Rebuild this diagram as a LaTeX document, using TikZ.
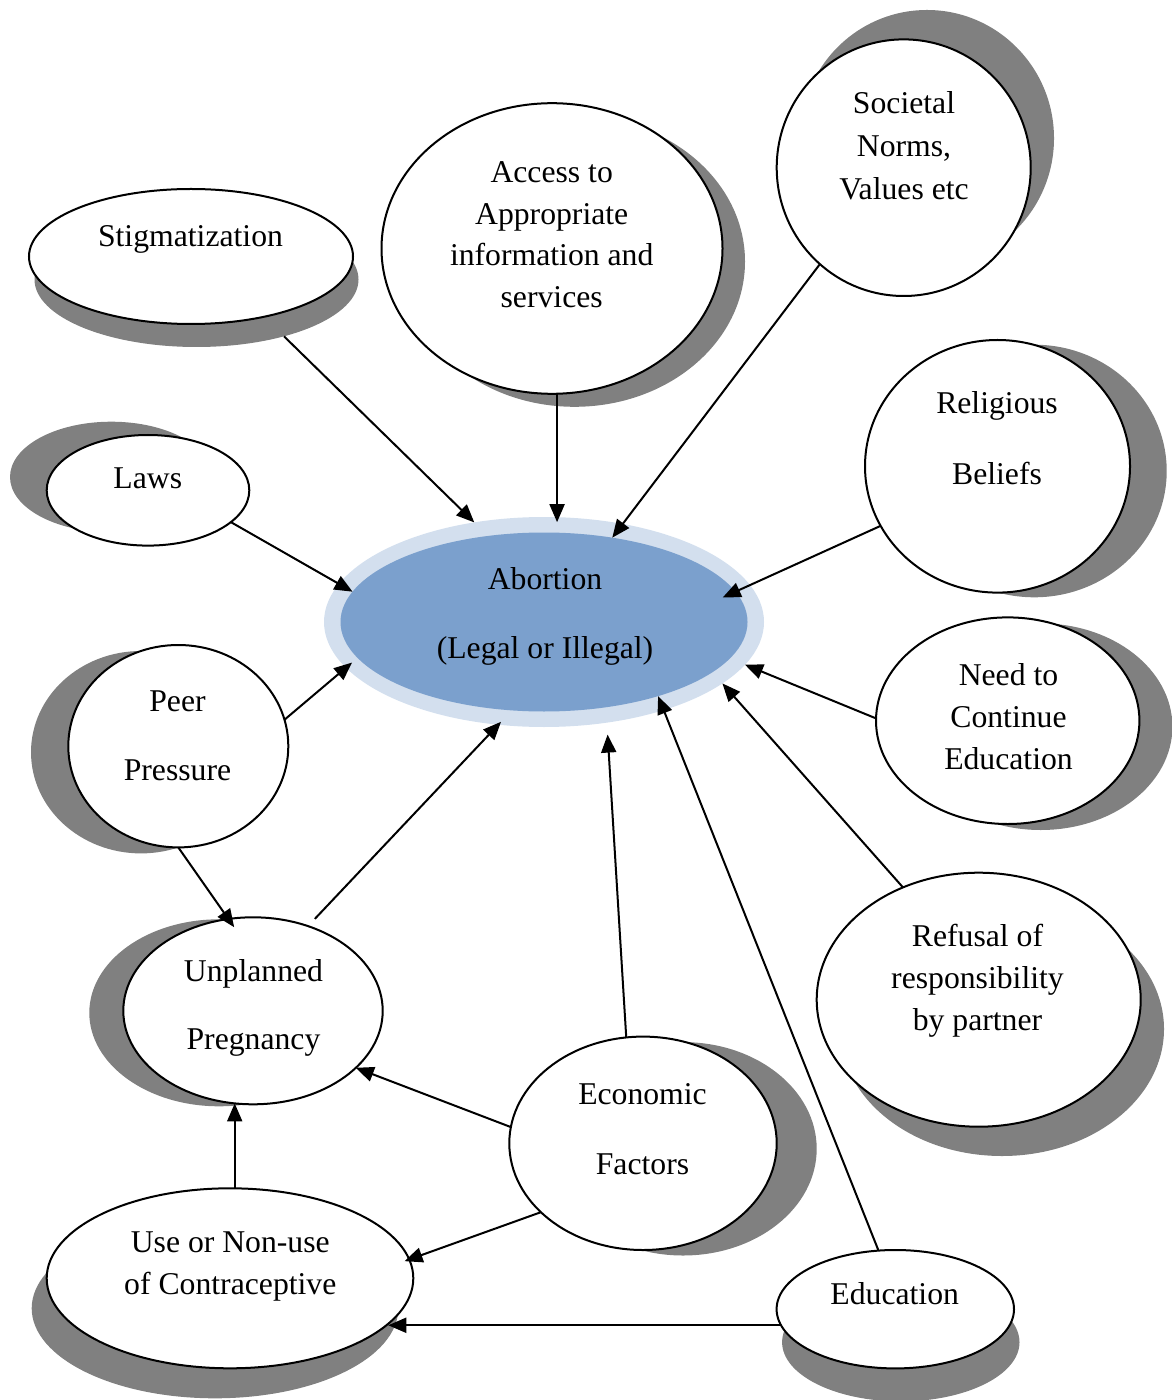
\documentclass[tikz,border=0pt]{standalone}
\usepackage{fontspec}
\setmainfont{Liberation Serif}
\usetikzlibrary{arrows.meta,shapes.geometric}
\definecolor{shadowgray}{RGB}{128,128,128}
\definecolor{abortblue}{RGB}{123,160,205}
\definecolor{abortlight}{RGB}{211,223,238}
\newcommand\tl[1]{\begin{tabular}[t]{@{}c@{}}#1\end{tabular}}
\begin{document}
\begin{tikzpicture}[x=0.5pt,y=-0.5pt,
  bub/.style={ellipse, draw=black, line width=1pt, fill=white, inner sep=0pt, outer sep=0pt},
  shad/.style={ellipse, fill=shadowgray, draw=none, inner sep=0pt, outer sep=0pt},
  lbl/.style={anchor=base, inner sep=0pt, font=\fontsize{15.85pt}{20.85pt}\selectfont},
  arr/.style={line width=1pt, -{Triangle[length=9pt,width=7.5pt]}}]
\useasboundingbox (0,0) rectangle (1171,1400);
% shadows
\node[shad, minimum width=162pt, minimum height=67.5pt] (stigS) at (196.5,279.5) {};
\node[shad, minimum width=170.5pt, minimum height=145.3pt] (accS) at (574.5,261.5) {};
\node[shad, minimum width=127pt, minimum height=128.3pt] (socS) at (927,138.3) {};
\node[shad, minimum width=101.3pt, minimum height=55.3pt] (lawsS) at (111.3,477) {};
\node[shad, minimum width=110pt, minimum height=101.2pt] (peerS) at (141,752.2) {};
\node[shad, minimum width=132.5pt, minimum height=126.3pt] (relS) at (1034.2,471) {};
\node[shad, minimum width=131.7pt, minimum height=103.3pt] (needS) at (1040.7,726.7) {};
\node[shad, minimum width=129.7pt, minimum height=93.5pt] (unpS) at (219,1012.8) {};
\node[shad, minimum width=162pt, minimum height=127pt] (refS) at (1002,1029) {};
\node[shad, minimum width=133.7pt, minimum height=106.7pt] (econS) at (683,1148.8) {};
\node[shad, minimum width=183.3pt, minimum height=90pt] (useS) at (215,1308.3) {};
\node[shad, minimum width=118.7pt, minimum height=59.2pt] (eduS) at (900.8,1342.2) {};
% bubbles
\node[bub, minimum width=162pt, minimum height=67.5pt] (stig) at (191,256.5) {};
\node[bub, minimum width=170.5pt, minimum height=145.3pt] (acc) at (552,248.5) {};
\node[bub, minimum width=127pt, minimum height=128.3pt] (soc) at (903.7,167.7) {};
\node[bub, minimum width=101.3pt, minimum height=55.3pt] (laws) at (148,490.3) {};
\node[bub, minimum width=110pt, minimum height=101.2pt] (peer) at (178.3,746.2) {};
\node[bub, minimum width=132.5pt, minimum height=126.3pt] (rel) at (997.5,466.3) {};
\node[bub, minimum width=131.7pt, minimum height=103.3pt] (need) at (1007.7,720.7) {};
\node[bub, minimum width=129.7pt, minimum height=93.5pt] (unp) at (253,1010.8) {};
\node[bub, minimum width=162pt, minimum height=127pt] (ref) at (978.7,999.7) {};
\node[bub, minimum width=133.7pt, minimum height=106.7pt] (econ) at (643,1143.3) {};
\node[bub, minimum width=183.3pt, minimum height=90pt] (use) at (230,1278.3) {};
\node[bub, minimum width=118.7pt, minimum height=59.2pt] (edu) at (895.3,1309.2) {};
% central node
\node[ellipse, fill=abortlight, inner sep=0pt, outer sep=0pt, minimum width=220pt, minimum height=105pt] (abort) at (544,622) {};
\node[ellipse, fill=abortblue, inner sep=0pt, outer sep=0pt, minimum width=203.5pt, minimum height=89.5pt] (abortin) at (544,622) {};
% texts
\node[lbl] (stigT) at (190.5,246.5) {Stigmatization};
\node[lbl] (accT) at (551.7,182.5) {\tl{Access to\\Appropriate\\information and\\services}};
\node[lbl] (socT) at (904,114) {\tl{Societal\\[0.6pt]Norms,\\[0.6pt]Values etc}};
\node[lbl] (lawsT) at (147.8,488) {Laws};
\node[lbl] (peerT) at (177.5,711.7) {\tl{Peer\\[13.3pt]Pressure}};
\node[lbl] (relT) at (997,413.2) {\tl{Religious\\[15pt]Beliefs}};
\node[lbl] (needT) at (1008.5,685.7) {\tl{Need to\\Continue\\Education}};
\node[lbl] (unpT) at (253.5,981.4) {\tl{Unplanned\\[12.95pt]Pregnancy}};
\node[lbl] (refT) at (977.5,946.4) {\tl{Refusal of\\[0.2pt]responsibility\\[0.2pt]by partner}};
\node[lbl] (econT) at (642.5,1104.7) {\tl{Economic\\[13.8pt]Factors}};
\node[lbl] (useT) at (230.3,1252.4) {\tl{Use or Non-use\\of Contraceptive}};
\node[lbl] (eduT) at (894.7,1304) {Education};
\node[lbl] (abortT) at (545,589.7) {\tl{Abortion\\[13.4pt](Legal or Illegal)}};
% connectors
\draw[arr] (stigS.-33) -- (abort.125);
\draw[arr, shorten >=-2.5pt] (acc.-88.4) -- (acc.-88.4 |- abort.83.2);
\draw[arr] (soc.-131.4) -- (abortin.51.2);
\draw[arr] (laws.-21.6) -- (abortin.171.2);
\draw[arr, shorten >=-7pt] (rel.-153.8) -- (abortin.9.25);
\draw[arr, shorten >=-4pt] (peer.14.4) -- (abort.-167.7);
\draw[arr] (need.179) -- (abort.-12.25);
\draw[arr, shorten <=5pt, shorten >=-2pt] (unp.57.4) -- (abort.-114.2);
\draw[arr, shorten >=6pt] (econ.99.6) -- (abort.-58.2);
\draw[arr] (ref.124.9) -- (abort.-19.1);
\draw[arr] (edu.106.3) -- (abortin.-33.6);
\draw[arr, shorten >=-5pt] (peer.-90) -- (unp.105.7);
\draw[arr] (econ.173.4) -- (unp.-29.4);
\draw[arr] (use.87.5) -- (use.87.5 |- unp.-101.3);
\draw[arr, shorten >=-2.5pt] (econ.-146.8) -- (use.6.6);
\draw[arr] (edu.-172.9) -- (use.-16.1 |- edu.-172.9);
\end{tikzpicture}
\end{document}
